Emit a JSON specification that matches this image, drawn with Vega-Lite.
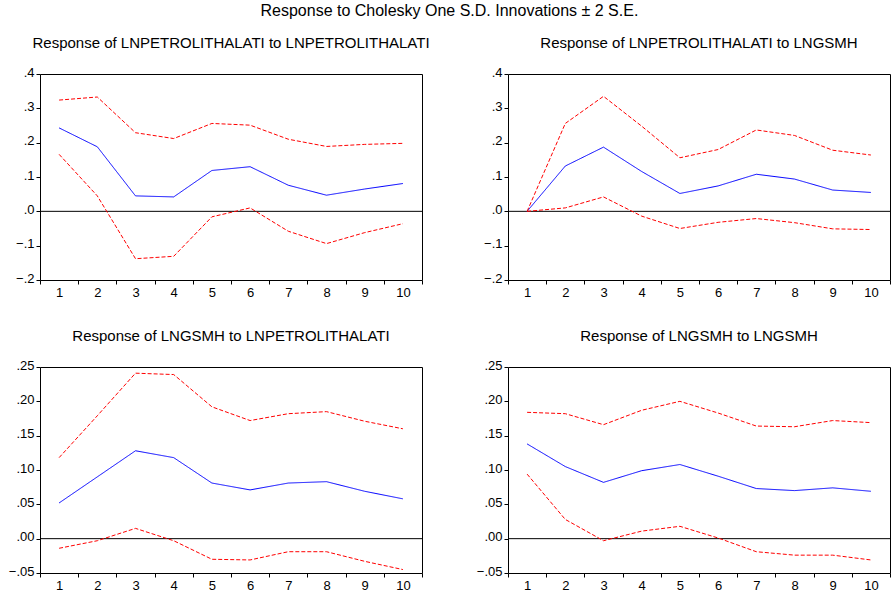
{
  "$schema": "https://vega.github.io/schema/vega-lite/v6.json",
  "padding": {"left": 7, "top": 2, "right": 3, "bottom": 3},
  "background": "white",
  "title": {"text": "Response to Cholesky One S.D. Innovations ± 2 S.E.", "fontSize": 16, "fontWeight": "normal", "anchor": "middle", "offset": 17, "font": "Liberation Sans", "color": "black"},
  "data": {"values": [
    {"panel":1,"step":1,"series":"resp","value":0.243},{"panel":1,"step":2,"series":"resp","value":0.188},{"panel":1,"step":3,"series":"resp","value":0.045},{"panel":1,"step":4,"series":"resp","value":0.042},{"panel":1,"step":5,"series":"resp","value":0.119},{"panel":1,"step":6,"series":"resp","value":0.130},{"panel":1,"step":7,"series":"resp","value":0.076},{"panel":1,"step":8,"series":"resp","value":0.047},{"panel":1,"step":9,"series":"resp","value":0.065},{"panel":1,"step":10,"series":"resp","value":0.081},
    {"panel":1,"step":1,"series":"upper","value":0.324},{"panel":1,"step":2,"series":"upper","value":0.333},{"panel":1,"step":3,"series":"upper","value":0.229},{"panel":1,"step":4,"series":"upper","value":0.212},{"panel":1,"step":5,"series":"upper","value":0.256},{"panel":1,"step":6,"series":"upper","value":0.251},{"panel":1,"step":7,"series":"upper","value":0.210},{"panel":1,"step":8,"series":"upper","value":0.189},{"panel":1,"step":9,"series":"upper","value":0.195},{"panel":1,"step":10,"series":"upper","value":0.198},
    {"panel":1,"step":1,"series":"lower","value":0.166},{"panel":1,"step":2,"series":"lower","value":0.045},{"panel":1,"step":3,"series":"lower","value":-0.138},{"panel":1,"step":4,"series":"lower","value":-0.131},{"panel":1,"step":5,"series":"lower","value":-0.016},{"panel":1,"step":6,"series":"lower","value":0.010},{"panel":1,"step":7,"series":"lower","value":-0.058},{"panel":1,"step":8,"series":"lower","value":-0.094},{"panel":1,"step":9,"series":"lower","value":-0.062},{"panel":1,"step":10,"series":"lower","value":-0.036},
    {"panel":2,"step":1,"series":"resp","value":0.0},{"panel":2,"step":2,"series":"resp","value":0.132},{"panel":2,"step":3,"series":"resp","value":0.187},{"panel":2,"step":4,"series":"resp","value":0.116},{"panel":2,"step":5,"series":"resp","value":0.052},{"panel":2,"step":6,"series":"resp","value":0.074},{"panel":2,"step":7,"series":"resp","value":0.108},{"panel":2,"step":8,"series":"resp","value":0.094},{"panel":2,"step":9,"series":"resp","value":0.062},{"panel":2,"step":10,"series":"resp","value":0.055},
    {"panel":2,"step":1,"series":"upper","value":0.0},{"panel":2,"step":2,"series":"upper","value":0.256},{"panel":2,"step":3,"series":"upper","value":0.335},{"panel":2,"step":4,"series":"upper","value":0.248},{"panel":2,"step":5,"series":"upper","value":0.156},{"panel":2,"step":6,"series":"upper","value":0.180},{"panel":2,"step":7,"series":"upper","value":0.237},{"panel":2,"step":8,"series":"upper","value":0.221},{"panel":2,"step":9,"series":"upper","value":0.178},{"panel":2,"step":10,"series":"upper","value":0.164},
    {"panel":2,"step":1,"series":"lower","value":0.0},{"panel":2,"step":2,"series":"lower","value":0.010},{"panel":2,"step":3,"series":"lower","value":0.042},{"panel":2,"step":4,"series":"lower","value":-0.014},{"panel":2,"step":5,"series":"lower","value":-0.050},{"panel":2,"step":6,"series":"lower","value":-0.032},{"panel":2,"step":7,"series":"lower","value":-0.021},{"panel":2,"step":8,"series":"lower","value":-0.033},{"panel":2,"step":9,"series":"lower","value":-0.051},{"panel":2,"step":10,"series":"lower","value":-0.053},
    {"panel":3,"step":1,"series":"resp","value":0.052},{"panel":3,"step":2,"series":"resp","value":0.090},{"panel":3,"step":3,"series":"resp","value":0.128},{"panel":3,"step":4,"series":"resp","value":0.118},{"panel":3,"step":5,"series":"resp","value":0.081},{"panel":3,"step":6,"series":"resp","value":0.071},{"panel":3,"step":7,"series":"resp","value":0.081},{"panel":3,"step":8,"series":"resp","value":0.083},{"panel":3,"step":9,"series":"resp","value":0.069},{"panel":3,"step":10,"series":"resp","value":0.058},
    {"panel":3,"step":1,"series":"upper","value":0.118},{"panel":3,"step":2,"series":"upper","value":0.179},{"panel":3,"step":3,"series":"upper","value":0.241},{"panel":3,"step":4,"series":"upper","value":0.239},{"panel":3,"step":5,"series":"upper","value":0.192},{"panel":3,"step":6,"series":"upper","value":0.172},{"panel":3,"step":7,"series":"upper","value":0.182},{"panel":3,"step":8,"series":"upper","value":0.185},{"panel":3,"step":9,"series":"upper","value":0.171},{"panel":3,"step":10,"series":"upper","value":0.160},
    {"panel":3,"step":1,"series":"lower","value":-0.014},{"panel":3,"step":2,"series":"lower","value":-0.003},{"panel":3,"step":3,"series":"lower","value":0.015},{"panel":3,"step":4,"series":"lower","value":-0.003},{"panel":3,"step":5,"series":"lower","value":-0.030},{"panel":3,"step":6,"series":"lower","value":-0.031},{"panel":3,"step":7,"series":"lower","value":-0.019},{"panel":3,"step":8,"series":"lower","value":-0.019},{"panel":3,"step":9,"series":"lower","value":-0.033},{"panel":3,"step":10,"series":"lower","value":-0.045},
    {"panel":4,"step":1,"series":"resp","value":0.138},{"panel":4,"step":2,"series":"resp","value":0.105},{"panel":4,"step":3,"series":"resp","value":0.082},{"panel":4,"step":4,"series":"resp","value":0.099},{"panel":4,"step":5,"series":"resp","value":0.108},{"panel":4,"step":6,"series":"resp","value":0.091},{"panel":4,"step":7,"series":"resp","value":0.073},{"panel":4,"step":8,"series":"resp","value":0.070},{"panel":4,"step":9,"series":"resp","value":0.074},{"panel":4,"step":10,"series":"resp","value":0.069},
    {"panel":4,"step":1,"series":"upper","value":0.184},{"panel":4,"step":2,"series":"upper","value":0.182},{"panel":4,"step":3,"series":"upper","value":0.166},{"panel":4,"step":4,"series":"upper","value":0.187},{"panel":4,"step":5,"series":"upper","value":0.200},{"panel":4,"step":6,"series":"upper","value":0.183},{"panel":4,"step":7,"series":"upper","value":0.164},{"panel":4,"step":8,"series":"upper","value":0.163},{"panel":4,"step":9,"series":"upper","value":0.172},{"panel":4,"step":10,"series":"upper","value":0.169},
    {"panel":4,"step":1,"series":"lower","value":0.094},{"panel":4,"step":2,"series":"lower","value":0.028},{"panel":4,"step":3,"series":"lower","value":-0.003},{"panel":4,"step":4,"series":"lower","value":0.011},{"panel":4,"step":5,"series":"lower","value":0.018},{"panel":4,"step":6,"series":"lower","value":0.001},{"panel":4,"step":7,"series":"lower","value":-0.019},{"panel":4,"step":8,"series":"lower","value":-0.024},{"panel":4,"step":9,"series":"lower","value":-0.024},{"panel":4,"step":10,"series":"lower","value":-0.031}
  ]},
  "columns": 2,
  "bounds": "flush",
  "spacing": {"row": 87, "column": 86},
  "concat": [
    {
      "title": "Response of LNPETROLITHALATI to LNPETROLITHALATI",
      "width": 382, "height": 206,
      "transform": [{"filter": "datum.panel == 1"}],
      "resolve": {"axis": {"y": "independent"}},
      "layer": [
        {"data": {"values": [{}]}, "mark": {"type": "rule", "color": "black", "strokeWidth": 1}, "encoding": {"y": {"datum": 0, "type": "quantitative", "axis": null}}},
        {"mark": {"type": "line", "strokeWidth": 1},
         "encoding": {
          "x": {"field": "step", "type": "ordinal", "bandPosition": 0.5, "scale": {"type": "band", "paddingInner": 0, "paddingOuter": 0}, "axis": {"title": null, "labelAngle": 0, "tickBand": "extent"}},
          "y": {"field": "value", "type": "quantitative", "scale": {"domain": [-0.2, 0.4], "nice": false, "zero": false}, "axis": {"title": null, "labelOverlap": false, "values": [-0.2, -0.1, 0, 0.1, 0.2, 0.3, 0.4], "labelExpr": "replace(format(datum.value, '.1f'), '0.', '.')"}},
          "color": {"field": "series", "type": "nominal", "scale": {"domain": ["resp", "upper", "lower"], "range": ["#0000ff", "#ff0000", "#ff0000"]}, "legend": null},
          "strokeDash": {"field": "series", "type": "nominal", "scale": {"domain": ["resp", "upper", "lower"], "range": [[1, 0], [4, 2], [4, 2]]}, "legend": null}
         }}
      ]
    },
    {
      "title": "Response of LNPETROLITHALATI to LNGSMH",
      "width": 382, "height": 206,
      "transform": [{"filter": "datum.panel == 2"}],
      "resolve": {"axis": {"y": "independent"}},
      "layer": [
        {"data": {"values": [{}]}, "mark": {"type": "rule", "color": "black", "strokeWidth": 1}, "encoding": {"y": {"datum": 0, "type": "quantitative", "axis": null}}},
        {"mark": {"type": "line", "strokeWidth": 1},
         "encoding": {
          "x": {"field": "step", "type": "ordinal", "bandPosition": 0.5, "scale": {"type": "band", "paddingInner": 0, "paddingOuter": 0}, "axis": {"title": null, "labelAngle": 0, "tickBand": "extent"}},
          "y": {"field": "value", "type": "quantitative", "scale": {"domain": [-0.2, 0.4], "nice": false, "zero": false}, "axis": {"title": null, "labelOverlap": false, "values": [-0.2, -0.1, 0, 0.1, 0.2, 0.3, 0.4], "labelExpr": "replace(format(datum.value, '.1f'), '0.', '.')"}},
          "color": {"field": "series", "type": "nominal", "scale": {"domain": ["resp", "upper", "lower"], "range": ["#0000ff", "#ff0000", "#ff0000"]}, "legend": null},
          "strokeDash": {"field": "series", "type": "nominal", "scale": {"domain": ["resp", "upper", "lower"], "range": [[1, 0], [4, 2], [4, 2]]}, "legend": null}
         }}
      ]
    },
    {
      "title": "Response of LNGSMH to LNPETROLITHALATI",
      "width": 382, "height": 206,
      "transform": [{"filter": "datum.panel == 3"}],
      "resolve": {"axis": {"y": "independent"}},
      "layer": [
        {"data": {"values": [{}]}, "mark": {"type": "rule", "color": "black", "strokeWidth": 1}, "encoding": {"y": {"datum": 0, "type": "quantitative", "axis": null}}},
        {"mark": {"type": "line", "strokeWidth": 1},
         "encoding": {
          "x": {"field": "step", "type": "ordinal", "bandPosition": 0.5, "scale": {"type": "band", "paddingInner": 0, "paddingOuter": 0}, "axis": {"title": null, "labelAngle": 0, "tickBand": "extent"}},
          "y": {"field": "value", "type": "quantitative", "scale": {"domain": [-0.05, 0.25], "nice": false, "zero": false}, "axis": {"title": null, "labelOverlap": false, "values": [-0.05, 0, 0.05, 0.1, 0.15, 0.2, 0.25], "labelExpr": "replace(format(datum.value, '.2f'), '0.', '.')"}},
          "color": {"field": "series", "type": "nominal", "scale": {"domain": ["resp", "upper", "lower"], "range": ["#0000ff", "#ff0000", "#ff0000"]}, "legend": null},
          "strokeDash": {"field": "series", "type": "nominal", "scale": {"domain": ["resp", "upper", "lower"], "range": [[1, 0], [4, 2], [4, 2]]}, "legend": null}
         }}
      ]
    },
    {
      "title": "Response of LNGSMH to LNGSMH",
      "width": 382, "height": 206,
      "transform": [{"filter": "datum.panel == 4"}],
      "resolve": {"axis": {"y": "independent"}},
      "layer": [
        {"data": {"values": [{}]}, "mark": {"type": "rule", "color": "black", "strokeWidth": 1}, "encoding": {"y": {"datum": 0, "type": "quantitative", "axis": null}}},
        {"mark": {"type": "line", "strokeWidth": 1},
         "encoding": {
          "x": {"field": "step", "type": "ordinal", "bandPosition": 0.5, "scale": {"type": "band", "paddingInner": 0, "paddingOuter": 0}, "axis": {"title": null, "labelAngle": 0, "tickBand": "extent"}},
          "y": {"field": "value", "type": "quantitative", "scale": {"domain": [-0.05, 0.25], "nice": false, "zero": false}, "axis": {"title": null, "labelOverlap": false, "values": [-0.05, 0, 0.05, 0.1, 0.15, 0.2, 0.25], "labelExpr": "replace(format(datum.value, '.2f'), '0.', '.')"}},
          "color": {"field": "series", "type": "nominal", "scale": {"domain": ["resp", "upper", "lower"], "range": ["#0000ff", "#ff0000", "#ff0000"]}, "legend": null},
          "strokeDash": {"field": "series", "type": "nominal", "scale": {"domain": ["resp", "upper", "lower"], "range": [[1, 0], [4, 2], [4, 2]]}, "legend": null}
         }}
      ]
    }
  ],
  "resolve": {"scale": {"color": "shared", "strokeDash": "shared"}},
  "config": {
    "font": "Liberation Sans",
    "view": {"stroke": "black", "strokeWidth": 1},
    "axis": {"domain": false, "grid": false, "labelFont": "Liberation Sans", "labelFontSize": 13, "labelColor": "black", "tickColor": "black", "tickSize": 4, "labelPadding": 2},
    "axisY": {"labelOffset": -2},
    "title": {"font": "Liberation Sans", "fontSize": 15, "fontWeight": "normal", "color": "black", "offset": 15}
  }
}
